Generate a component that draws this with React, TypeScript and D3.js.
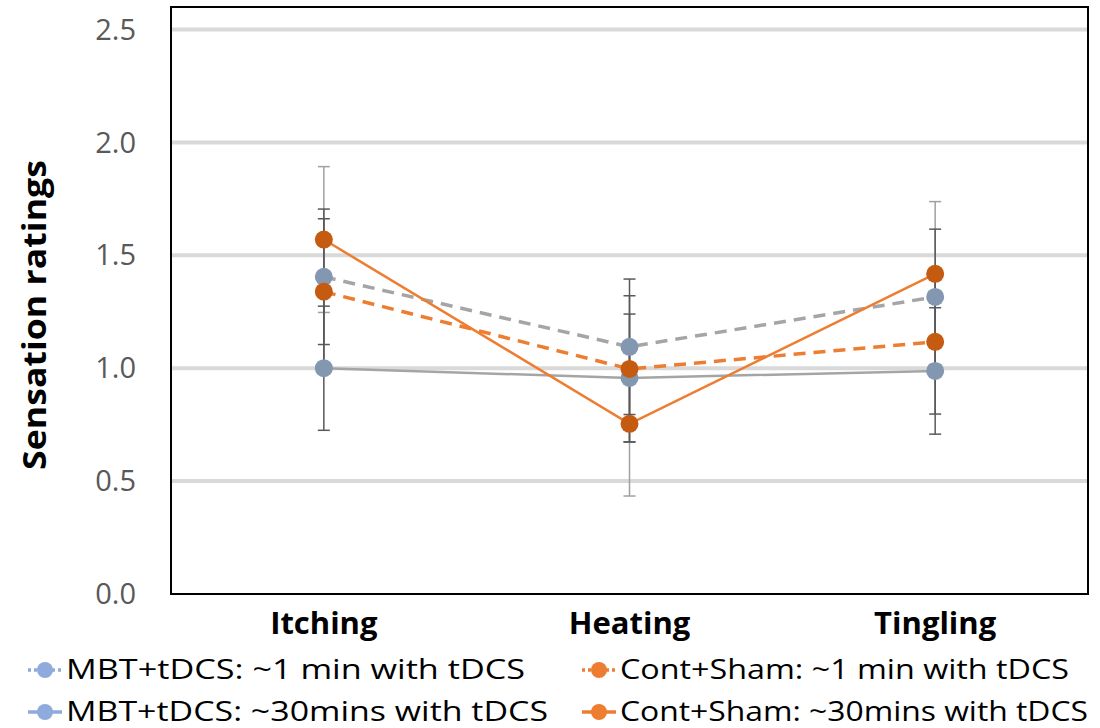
import React from "react";
import * as d3 from "d3";

const categories = ["Itching", "Heating", "Tingling"];
const yTicks = [0, 0.5, 1.0, 1.5, 2.0, 2.5];

const mbt1 = [1.405, 1.095, 1.316];
const mbt1Err = [0.30, 0.30, 0.30];
const mbt30 = [1.0, 0.957, 0.988];
const mbt30Err = [0.275, 0.283, 0.28];
const cont1 = [1.339, 0.997, 1.117];
const cont1Err = [0.323, 0.324, 0.32];
const cont30 = [1.57, 0.754, 1.418];
const cont30Err = [0.323, 0.32, 0.32];

const seriesNames = [
  "MBT+tDCS: ~1 min with tDCS",
  "MBT+tDCS: ~30mins with tDCS",
  "Cont+Sham: ~1 min with tDCS",
  "Cont+Sham: ~30mins with tDCS",
];

const W = 1100, H = 728;
const left = 171, right = 1088, top = 7, bottom = 594;

export default function App() {
  const x = d3.scaleBand<string>().domain(categories).range([left, right]).padding(0);
  const y = d3.scaleLinear().domain([0, 2.6]).range([bottom, top]);
  const cx = (c: string) => (x(c) as number) + x.bandwidth() / 2;

  const series = [
    { name: seriesNames[0], vals: mbt1, err: mbt1Err, line: "#A5A5A5", dash: "12,8", marker: "#8497B0", errColor: "#595959", legMarker: "#8FAADC", legDash: "3,3" },
    { name: seriesNames[1], vals: mbt30, err: mbt30Err, line: "#A5A5A5", dash: null, marker: "#8497B0", errColor: "#595959", legMarker: "#8FAADC", legDash: null },
    { name: seriesNames[2], vals: cont1, err: cont1Err, line: "#ED7D31", dash: "12,8", marker: "#C55A11", errColor: "#595959", legMarker: "#ED7D31", legDash: "3,3" },
    { name: seriesNames[3], vals: cont30, err: cont30Err, line: "#ED7D31", dash: null, marker: "#C55A11", errColor: "#A0A0A0", legMarker: "#ED7D31", legDash: null },
  ];

  const lineGen = d3.line<[number, number]>().x(d => d[0]).y(d => d[1]);

  const errOrder = [3, 0, 2, 1];
  const drawOrder = [1, 0, 2, 3];

  const legendPos = [
    { lx: 28, ly: 670, tw: 459 },
    { lx: 28, ly: 712, tw: 482 },
    { lx: 582, ly: 670, tw: 449 },
    { lx: 582, ly: 712, tw: 468 },
  ];

  const font = "Open Sans, Liberation Sans, sans-serif";

  return (
    <svg width={W} height={H} style={{ display: "block", position: "absolute", left: 0, top: 0, background: "#fff" }}>
      <rect x={0} y={0} width={W} height={H} fill="#fff" />
      {yTicks.filter(t => t > 0).map(t => (
        <line key={t} x1={left} x2={right} y1={y(t)} y2={y(t)} stroke="#D9D9D9" strokeWidth={4} />
      ))}
      {yTicks.map(t => (
        <text key={"yl" + t} x={136} y={y(t)} dy="0.35em" textAnchor="end" fontFamily={font} fontSize={29} fill="#595959">
          {t.toFixed(1)}
        </text>
      ))}
      <text transform={`translate(46,315) rotate(-90)`} textAnchor="middle" fontFamily={font} fontWeight="bold" fontSize={33} fill="#000" textLength={310} lengthAdjust="spacingAndGlyphs">
        Sensation ratings
      </text>
      {categories.map(c => (
        <text key={c} x={cx(c)} y={634} textAnchor="middle" fontFamily={font} fontWeight="bold" fontSize={31} fill="#000">
          {c}
        </text>
      ))}
      {errOrder.map(i => {
        const s = series[i];
        return categories.map((c, j) => {
          const hi = y(s.vals[j] + s.err[j]);
          const lo = y(s.vals[j] - s.err[j]);
          const xx = cx(c);
          return (
            <g key={`e${i}-${j}`} stroke={s.errColor} strokeWidth={1.5}>
              <line x1={xx} x2={xx} y1={hi} y2={lo} />
              <line x1={xx - 6} x2={xx + 6} y1={hi} y2={hi} />
              <line x1={xx - 6} x2={xx + 6} y1={lo} y2={lo} />
            </g>
          );
        });
      })}
      {drawOrder.map(i => {
        const s = series[i];
        const pts = categories.map((c, j) => [cx(c), y(s.vals[j])] as [number, number]);
        return (
          <path key={"l" + i} d={lineGen(pts) as string} fill="none" stroke={s.line} strokeWidth={s.dash ? 3.5 : 2.5} strokeDasharray={s.dash ?? undefined} />
        );
      })}
      {drawOrder.map(i => {
        const s = series[i];
        return categories.map((c, j) => (
          <circle key={`m${i}-${j}`} cx={cx(c)} cy={y(s.vals[j])} r={9} fill={s.marker} />
        ));
      })}
      <rect x={left} y={top} width={right - left} height={bottom - top} fill="none" stroke="#000" strokeWidth={2} />
      {series.map((s, i) => {
        const p = legendPos[i];
        return (
          <g key={"lg" + i}>
            <line x1={p.lx} x2={p.lx + 34} y1={p.ly} y2={p.ly} stroke={s.legMarker} strokeWidth={3.5} strokeDasharray={s.legDash ?? undefined} />
            <circle cx={p.lx + 17} cy={p.ly} r={8} fill={s.legMarker} />
            <text x={p.lx + 38} y={p.ly} dy="0.35em" fontFamily={font} fontSize={27} fill="#000" textLength={p.tw} lengthAdjust="spacingAndGlyphs">
              {s.name}
            </text>
          </g>
        );
      })}
    </svg>
  );
}
